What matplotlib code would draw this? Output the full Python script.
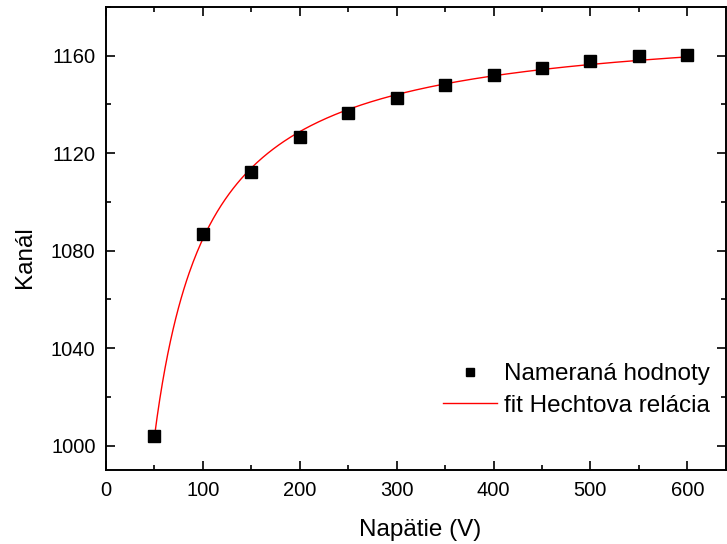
import matplotlib
matplotlib.use("Agg")
import matplotlib.pyplot as plt
import numpy as np
from matplotlib.ticker import MultipleLocator

plt.rcParams['font.family'] = ['Liberation Sans', 'DejaVu Sans']

# measured data
napatie = np.array([50, 100, 150, 200, 250, 300, 350, 400, 450, 500, 550, 600])
kanal = np.array([1003.8, 1087.0, 1112.2, 1126.6, 1136.3, 1142.8,
                  1148.1, 1152.1, 1155.1, 1157.7, 1159.7, 1160.4])

label_data = "Nameraná hodnoty"
label_fit = "fit Hechtova relácia"


def hecht(v, v0):
    return (v / v0) * (1 - np.exp(-v0 / v))


# least squares fit of A * hecht(V, V0)
best = None
for v0 in np.linspace(1, 100, 5000):
    h = hecht(napatie, v0)
    a = np.sum(h * kanal) / np.sum(h * h)
    res = np.sum((kanal - a * h) ** 2)
    if best is None or res < best[0]:
        best = (res, a, v0)
_, A, V0 = best

vfit = np.linspace(50, 600, 400)
kfit = A * hecht(vfit, V0)

fig = plt.figure(figsize=(7.27, 5.44), dpi=100)
ax = fig.add_axes([106 / 727, 1 - 470 / 544, 620 / 727, 463 / 544])

ax.plot(vfit, kfit, '-', color='red', lw=1.0, label=label_fit)
ax.plot(napatie, kanal, 's', color='black', ms=8, label=label_data)

ax.set_xlim(0, 640)
ax.set_ylim(990, 1180)
ax.xaxis.set_major_locator(MultipleLocator(100))
ax.xaxis.set_minor_locator(MultipleLocator(50))
ax.yaxis.set_major_locator(MultipleLocator(40))
ax.yaxis.set_minor_locator(MultipleLocator(20))

ax.tick_params(which='both', direction='in', top=True, right=True, width=1.2,
               labelsize=14.5)
ax.tick_params(which='major', length=6.5)
ax.tick_params(which='minor', length=3.3)
ax.tick_params(axis='x', pad=8)
ax.tick_params(axis='y', pad=7.5)
for s in ax.spines.values():
    s.set_linewidth(1.4)

ax.set_xlabel("Napätie (V)", fontsize=17.5)
ax.set_ylabel("Kanál", fontsize=17.5)
ax.xaxis.set_label_coords(0.506, -0.105)
ax.yaxis.set_label_coords(-0.113, 0.46)

handles, labels = ax.get_legend_handles_labels()
leg = ax.legend(handles[::-1], labels[::-1], loc='lower right',
                bbox_to_anchor=(0.99, 0.094), frameon=False, fontsize=17.5,
                handlelength=2.2, handletextpad=0.3, labelspacing=0.4,
                markerscale=0.8, borderaxespad=0)

fig.savefig("out.png", dpi=100)
